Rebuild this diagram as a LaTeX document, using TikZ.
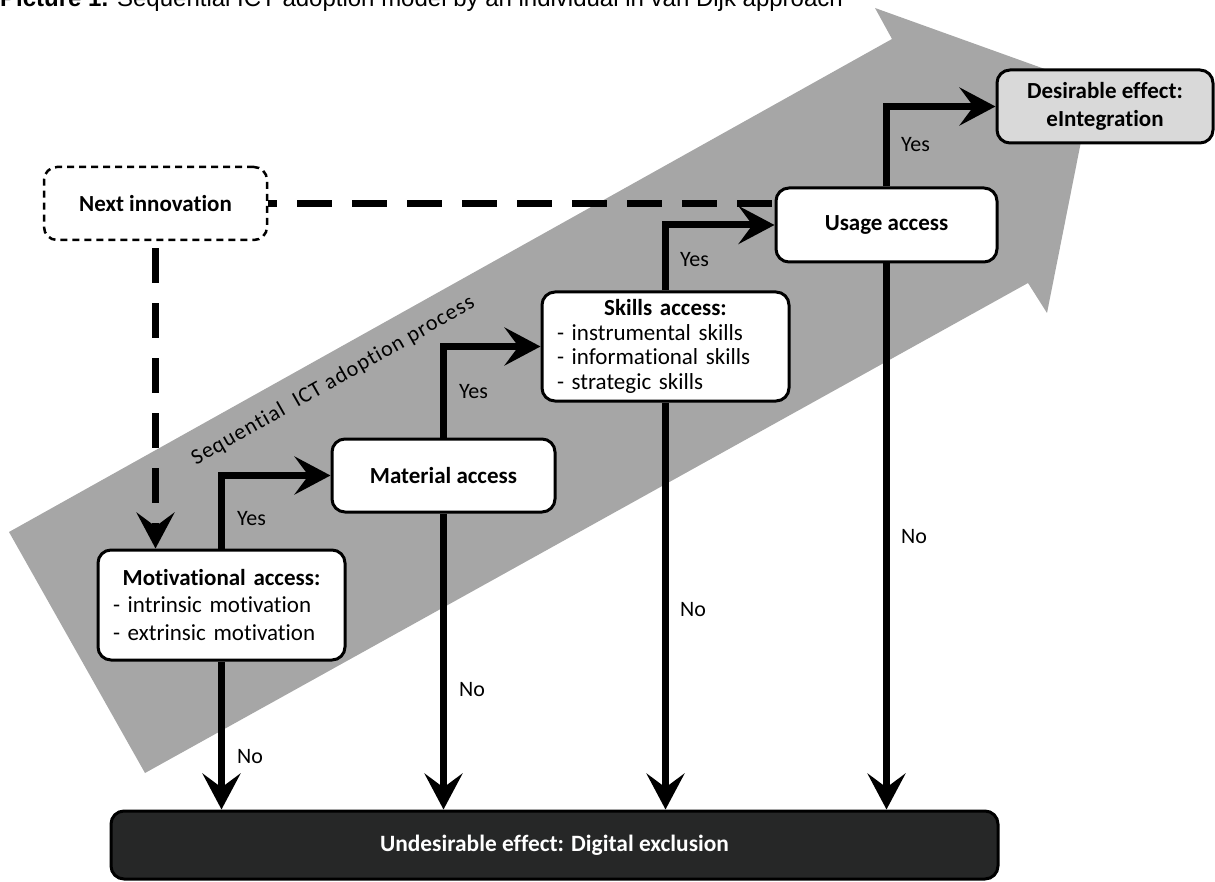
\documentclass[tikz,border=0pt]{standalone}
\usepackage{fontspec}
\setmainfont{Carlito}[Ligatures=NoCommon]
\newfontfamily\titlefont{Liberation Sans}
\usetikzlibrary{arrows.meta,calc}
\definecolor{bigarrow}{HTML}{A6A6A6}
\definecolor{darkbox}{HTML}{262727}
\definecolor{lightbox}{HTML}{D9D9D9}
\begin{document}
\begin{tikzpicture}[x=1pt,y=-1pt,
  box/.style={draw=black, line width=3pt, rounded corners=13pt, fill=white,
    inner sep=0pt, font=\fontsize{23}{28}\selectfont\bfseries, align=center},
  listbox/.style={box, text width=217pt, inner xsep=15pt, align=left,
    font=\fontsize{23}{#1}\selectfont},
  conn/.style={line width=7pt, -{Stealth[length=36pt,width=38pt,inset=14pt]}},
  dconn/.style={line width=7pt, dash pattern=on 35pt off 20pt},
  lbl/.style={font=\fontsize{22}{26}\selectfont, inner sep=0pt, anchor=west}]
\useasboundingbox (0,0) rectangle (1215,882);

% big background arrow
\fill[bigarrow] (9,532) -- (892,39) -- (875,8) -- (1092,86) -- (1047,313)
  -- (1028,283) -- (145,773) -- cycle;
\node[anchor=base, rotate=29.6, inner sep=0pt,
  font=\fontsize{22}{26}\selectfont\addfontfeature{LetterSpace=5}]
  (seq) at (336,386) {Sequential\ \ ICT adoption process};

% title (cut at top)
\node[anchor=base west, inner sep=0pt, font=\titlefont\fontsize{24}{28}\selectfont]
  (title) at (0,7) {\textbf{Picture 1.} Sequential ICT adoption model by an individual in van Dijk approach};

% nodes
\node[box, dash pattern=on 7pt off 5pt, line width=2.5pt, minimum width=223pt, minimum height=73pt]
  (next) at (155.5,203.5) {Next innovation};
\node[listbox=27.5, minimum height=110pt] (mot) at (221.5,605)
  {{\centering\bfseries Motivational access:\par}- intrinsic motivation\par - extrinsic motivation};
\node[box, minimum width=223pt, minimum height=73pt] (mat) at (443.5,475.5) {Material access};
\node[listbox=24.5, minimum height=109pt] (skl) at (665.5,346.5)
  {{\centering\bfseries Skills access:\par}- instrumental skills\par - informational skills\par - strategic skills};
\node[box, minimum width=221pt, minimum height=74pt] (use) at (886.5,225) {Usage access};
\node[box, fill=lightbox, minimum width=216pt, minimum height=73pt] (des) at (1105,106.5)
  {Desirable effect:\\eIntegration};
\node[box, fill=darkbox, text=white, font=\fontsize{23.4}{28}\selectfont\bfseries,
  minimum width=887pt, minimum height=68pt] (und) at (554.5,845)
  {Undesirable effect: Digital exclusion};

% dashed connectors
\draw[dconn, dash phase=26pt] (next.east) -- (next.east -| use.west);
\draw[dconn, dash phase=48pt, -{Stealth[length=36pt,width=38pt,inset=14pt]}]
  (next.south) -- (next.south |- mot.north);

% yes connectors
\draw[conn] (mot.north) |- (mat.west);
\draw[conn] (mat.north) |- (skl.west);
\draw[conn] (skl.north) |- (use.west);
\draw[conn] (use.north) |- (des.west);

% no connectors
\draw[conn] (mot.south) -- (mot.south |- und.north);
\draw[conn] (mat.south) -- (mat.south |- und.north);
\draw[conn] (skl.south) -- (skl.south |- und.north);
\draw[conn] (use.south) -- (use.south |- und.north);

% labels
\node[lbl] (y1) at (237,519) {Yes};
\node[lbl] (n1) at (237,757) {No};
\node[lbl] (y2) at (459,392) {Yes};
\node[lbl] (n2) at (459,690) {No};
\node[lbl] (y3) at (680,260) {Yes};
\node[lbl] (n3) at (680,610) {No};
\node[lbl] (y4) at (901,145) {Yes};
\node[lbl] (n4) at (901,537) {No};
\end{tikzpicture}
\end{document}
